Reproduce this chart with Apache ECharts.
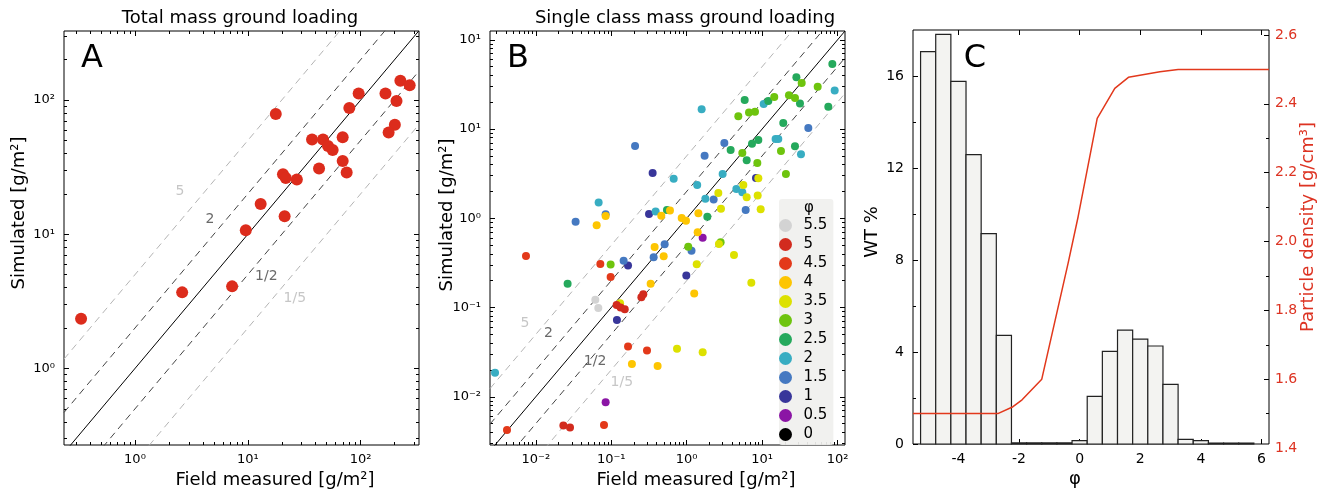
<!DOCTYPE html>
<html lang="en">
<head>
<meta charset="UTF-8">
<title>Ground loading</title>
<script src="https://cdn.jsdelivr.net/npm/echarts@6/dist/echarts.min.js"></script>
</head>
<body style="margin:0;background:#fff">
<div id="main" style="width:1328px;height:495px;"></div>
<script>
// ---- panel A: total mass ground loading [g/m2]
const totalField = [0.333, 2.62, 7.26, 9.6, 13.0, 21.2, 17.7, 20.5, 21.7, 27.2, 37.1, 46.4, 42.8,
    51.4, 56.5, 69.3, 69.3, 75.2, 79.4, 96, 166, 208, 201, 177, 225, 272];
const totalSim = [2.35, 3.69, 4.09, 10.7, 16.8, 13.6, 78.6, 28.0, 26.3, 25.6, 50.9, 50.9, 30.9,
    45.4, 42.4, 52.9, 35.1, 28.8, 87.1, 112, 112, 98.4, 65.4, 57.4, 139, 129];

// ---- panel B: single class mass, [field, simulated] per phi class
const phi55 = [[0.0615, 0.122], [0.0674, 0.0989]];
const phi50 = [[0.0232, 0.00475], [0.0284, 0.00451], [0.118, 0.107], [0.133, 0.0998], [0.151, 0.0955],
    [0.251, 0.130], [0.266, 0.141]];
const phi45 = [[0.00415, 0.00425], [0.00741, 0.378], [0.0802, 0.00483], [0.0717, 0.308], [0.0982, 0.220],
    [0.167, 0.0365], [0.298, 0.0329]];
const phi40 = [[0.0641, 0.835], [0.0843, 1.06], [0.461, 1.07], [0.601, 1.22], [0.859, 1.01], [0.98, 0.942],
    [1.43, 1.14], [0.376, 0.477], [0.496, 0.375], [0.333, 0.185], [1.40, 0.697], [1.26, 0.144],
    [0.188, 0.0233], [0.412, 0.0221]];
const phi35 = [[0.131, 0.112], [0.745, 0.0346], [1.63, 0.0315], [1.36, 0.305], [2.68, 0.516], [4.24, 0.388],
    [7.20, 0.190], [2.63, 1.92], [2.85, 1.28], [5.64, 2.36], [6.25, 1.72], [8.92, 2.81], [8.74, 1.80],
    [9.58, 1.26]];
const phi30 = [[0.0982, 0.303], [1.05, 0.481], [2.82, 0.538], [4.84, 13.9], [6.71, 15.3], [8.05, 15.6],
    [14.5, 22.9], [22.7, 23.9], [27.3, 22.3], [54.6, 29.9], [33.5, 32.9], [5.47, 5.40], [8.65, 4.17],
    [17.8, 5.68], [20.7, 3.14]];
const phi25 = [[0.0264, 0.185], [85.4, 53.7], [28.5, 38.0], [75.5, 17.8], [31.8, 19.4], [5.88, 21.2],
    [12.1, 20.6], [19.1, 11.7], [27.3, 6.41], [3.83, 5.83], [6.25, 4.47], [7.35, 6.87], [8.92, 7.55],
    [1.88, 1.04], [0.548, 1.24]];
const phi20 = [[0.00288, 0.0186], [0.0681, 1.50], [0.673, 2.78], [1.58, 16.7], [1.38, 2.36], [0.388, 1.19],
    [3.00, 3.14], [4.56, 2.13], [5.47, 1.96], [1.77, 1.66], [10.5, 19.1], [15.1, 7.74], [16.4, 7.74],
    [32.8, 5.21], [91.7, 27.0]];
const phi15 = [[0.0337, 0.918], [0.0843, 1.11], [0.146, 0.335], [0.207, 6.47], [0.511, 0.511], [0.365, 0.366],
    [3.16, 6.99], [1.73, 5.04], [2.28, 1.62], [6.06, 1.24], [41.0, 10.3], [1.16, 0.434]];
const phi10 = [[0.317, 1.12], [0.354, 3.22], [0.119, 0.0726], [0.167, 0.295], [0.99, 0.228], [8.30, 2.83]];
const phi05 = [[0.0843, 0.00867], [1.63, 0.607]];
const phi00 = [];

const phiClasses = ['5.5', '5', '4.5', '4', '3.5', '3', '2.5', '2', '1.5', '1', '0.5', '0'];
const phiColors = ['#d3d3d3', '#d22b1e', '#e3391a', '#fdc502', '#dde100', '#6ec40e', '#25a95c',
    '#38adc2', '#4579c1', '#38369a', '#8b15a5', '#000000'];
const phiData = [phi55, phi50, phi45, phi40, phi35, phi30, phi25, phi20, phi15, phi10, phi05, phi00];

// ---- panel C: grain size distribution and particle density
const phiBins = [-5, -4.5, -4, -3.5, -3, -2.5, -2, -1.5, -1, -0.5, 0, 0.5, 1, 1.5, 2, 2.5, 3, 3.5, 4, 4.5, 5, 5.5];
const wtPct = [17.06, 17.81, 15.77, 12.58, 9.15, 4.72, 0.05, 0.05, 0.05, 0.05, 0.15, 2.07, 4.03, 4.95,
    4.56, 4.26, 2.59, 0.2, 0.15, 0.04, 0.04, 0.04];
const densPhi = [-5.5, -2.7, -2.2, -1.9, -1.25, -0.38, -0.05, 0.58, 1.16, 1.61, 2.65, 3.25, 6.25];
const densVal = [1.50, 1.50, 1.52, 1.54, 1.60, 1.937, 2.072, 2.358, 2.445, 2.477, 2.493, 2.50, 2.50];

// ---- tick labels
const decA = [0, 1, 2];
const decLabA = ['10⁰', '10¹', '10²'];
const decB = [-2, -1, 0, 1, 2];
const decLabBx = ['10⁻²', '10⁻¹', '10⁰', '10¹', '10²'];
const decLabBy = ['10⁻²', '10⁻¹', '10⁰', '10¹', '10¹'];
const phiTicks = [-4, -2, 0, 2, 4, 6];
const wtTicks = [0, 4, 8, 12, 16];
const wtMinor = [2, 6, 10, 14];
const densLabels = [1.4, 1.6, 1.8, 2.0, 2.2, 2.4, 2.6];
const densTicks = [1.6, 1.8, 2.0, 2.2, 2.4, 2.6];
const densMinor = [1.5, 1.7, 1.9, 2.1, 2.3, 2.5];

const ratios = [5, 2, 1, 0.5, 0.2];
const ratioStyle = [
    {color: '#b4b4b4', type: [7, 5]}, {color: '#444', type: [7, 5]}, {color: '#000', type: 'solid'},
    {color: '#444', type: [7, 5]}, {color: '#b4b4b4', type: [7, 5]}
];

const FONT = 'DejaVu Sans';
const rangeA = {x: [0.235, 329], y: [0.269, 327]};
const rangeB = {x: [0.00247, 125.7], y: [0.00288, 125.7]};

const xAxes = [], yAxes = [];

function plainAxis(g, pos, lo, hi, ticks, len, label) {
    return {
        type: 'value', gridIndex: g, position: pos, min: lo, max: hi,
        axisLine: {show: false, onZero: false}, splitLine: {show: false},
        axisTick: {show: true, inside: true, length: len, customValues: ticks, lineStyle: {color: '#000', width: 1}},
        axisLabel: label ? Object.assign({show: true, color: '#000', fontSize: 13, fontFamily: FONT}, label) : {show: false}
    };
}

// decorative log ticks drawn on value axes in log10 units
function logTicks(list, g, posA, posB, range, decades, labels, margin) {
    const lo = Math.log10(range[0]), hi = Math.log10(range[1]);
    const majors = [], minors = [];
    for (let n = Math.floor(lo); n <= Math.ceil(hi); n++) {
        if (n >= lo && n <= hi) majors.push(n);
        for (let k = 2; k < 10; k++) {
            const v = n + Math.log10(k);
            if (v > lo && v < hi) minors.push(v);
        }
    }
    [posA, posB].forEach((pos, i) => {
        list.push(plainAxis(g, pos, lo, hi, majors, 5, i === 0 ? {
            customValues: decades, margin: margin,
            formatter: v => labels[decades.indexOf(Math.round(v))]
        } : null));
        list.push(plainAxis(g, pos, lo, hi, minors, 3, null));
    });
}

function logPanel(g, range, decX, labX, decY, labY) {
    xAxes.push({type: 'log', gridIndex: g, min: range.x[0], max: range.x[1], show: false});
    const xi = xAxes.length - 1;
    yAxes.push({type: 'log', gridIndex: g, min: range.y[0], max: range.y[1], show: false});
    const yi = yAxes.length - 1;
    logTicks(xAxes, g, 'bottom', 'top', range.x, decX, labX, 8);
    logTicks(yAxes, g, 'left', 'right', range.y, decY, labY, 9);
    return [xi, yi];
}

const [axA, ayA] = logPanel(0, rangeA, decA, decLabA, decA, decLabA);
const [axB, ayB] = logPanel(1, rangeB, decB, decLabBx, decB, decLabBy);

// panel C axes
xAxes.push(plainAxis(2, 'bottom', -5.5, 6.25, phiTicks, 5, {customValues: phiTicks, fontSize: 14, margin: 8}));
const axC = xAxes.length - 1;
xAxes.push(plainAxis(2, 'top', -5.5, 6.25, phiTicks, 5, null));
yAxes.push(plainAxis(2, 'left', 0, 18, wtTicks, 5, {customValues: wtTicks, fontSize: 14, margin: 9}));
const ayC = yAxes.length - 1;
yAxes.push(plainAxis(2, 'left', 0, 18, wtMinor, 3, null));
xAxes.push({type: 'value', gridIndex: 3, min: -5.5, max: 6.25, show: false});
const axC2 = xAxes.length - 1;
yAxes.push(plainAxis(3, 'right', 1.4, 2.6, densTicks, 5, {
    customValues: densLabels, fontSize: 14, margin: 6, color: '#dd3322', formatter: v => v.toFixed(1)
}));
const ayC2 = yAxes.length - 1;
yAxes.push(plainAxis(3, 'right', 1.4, 2.6, densMinor, 3, null));

function ratioSeries(xi, yi, range) {
    return ratios.map((k, i) => ({
        type: 'line', xAxisIndex: xi, yAxisIndex: yi, silent: true, symbol: 'none', clip: true, z: 1,
        lineStyle: {color: ratioStyle[i].color, type: ratioStyle[i].type, width: 1},
        data: [[range.x[0], range.x[0] * k], [range.x[1], range.x[1] * k]]
    }));
}

function ratioLabels(xi, yi, items) {
    return {
        type: 'scatter', xAxisIndex: xi, yAxisIndex: yi, symbolSize: 0, silent: true, z: 3,
        label: {show: true, position: 'inside', formatter: '{b}', fontSize: 14, fontFamily: FONT, textBorderWidth: 0},
        data: items.map(d => ({name: d[0], value: [d[1], d[2]], label: {color: d[3]}}))
    };
}

const series = [];
series.push(...ratioSeries(axA, ayA, rangeA));
series.push(ratioLabels(axA, ayA, [['5', 2.5, 20.9, '#b8b8b8'], ['2', 4.61, 12.9, '#444'],
    ['1/2', 14.6, 4.89, '#444'], ['1/5', 26.1, 3.35, '#b8b8b8']]));
series.push({
    type: 'scatter', xAxisIndex: axA, yAxisIndex: ayA, symbolSize: 12, z: 4,
    itemStyle: {color: '#dc2c1c', opacity: 1},
    data: totalField.map((v, i) => [v, totalSim[i]])
});

series.push(...ratioSeries(axB, ayB, rangeB));
series.push(ratioLabels(axB, ayB, [['5', 0.0072, 0.0665, '#b8b8b8'], ['2', 0.0147, 0.0514, '#444'],
    ['1/2', 0.0611, 0.0247, '#444'], ['1/5', 0.138, 0.01436, '#b8b8b8']]));
// lower phi drawn first, coarse classes end up underneath
for (let i = phiClasses.length - 1; i >= 0; i--) {
    series.push({
        name: phiClasses[i], type: 'scatter', xAxisIndex: axB, yAxisIndex: ayB, symbol: 'circle',
        symbolSize: 8, z: 4, itemStyle: {color: phiColors[i], opacity: 1}, data: phiData[i]
    });
}

series.push({
    type: 'custom', xAxisIndex: axC, yAxisIndex: ayC, z: 2,
    data: phiBins.map((p, i) => [p, wtPct[i]]),
    encode: {x: 0, y: 1},
    renderItem: function (params, api) {
        const x = api.value(0), h = api.value(1);
        const p0 = api.coord([x - 0.25, h]);
        const p1 = api.coord([x + 0.25, 0]);
        return {
            type: 'rect',
            shape: {x: p0[0], y: p0[1], width: p1[0] - p0[0], height: p1[1] - p0[1]},
            style: {fill: '#f3f3f1', stroke: '#222', lineWidth: 1.2}
        };
    }
});
series.push({
    type: 'line', xAxisIndex: axC2, yAxisIndex: ayC2, symbol: 'none', z: 5,
    lineStyle: {color: '#e2381c', width: 1.5},
    data: densPhi.map((p, i) => [p, densVal[i]])
});

function txt(text, x, y, size, opts) {
    return Object.assign({
        type: 'text', x: x, y: y, silent: true, z: 10,
        style: {
            text: text, fontSize: size, fontFamily: FONT, fill: '#000',
            align: 'center', verticalAlign: 'middle', textAlign: 'center', textVerticalAlign: 'middle'
        }
    }, opts || {});
}
function rot(el, color) {
    el.rotation = Math.PI / 2;
    if (color) el.style.fill = color;
    return el;
}

const gridBase = {show: true, borderColor: '#000', borderWidth: 1, backgroundColor: 'transparent', outerBoundsMode: 'none', containLabel: false};

const option = {
    animation: false,
    backgroundColor: '#fff',
    textStyle: {fontFamily: FONT},
    grid: [
        Object.assign({left: 64, top: 31, width: 355, height: 414}, gridBase),
        Object.assign({left: 490, top: 31, width: 355, height: 414}, gridBase),
        Object.assign({left: 913, top: 30, width: 356, height: 414}, gridBase),
        {left: 913, top: 35, width: 356, height: 413, show: false, outerBoundsMode: 'none'}
    ],
    xAxis: xAxes,
    yAxis: yAxes,
    legend: {
        data: phiClasses, orient: 'vertical', left: 779, top: 199,
        padding: [19, 6, 3, 0], itemWidth: 26, itemHeight: 13, itemGap: 4, icon: 'circle',
        backgroundColor: 'rgba(240,240,238,0.92)', borderRadius: 3, selectedMode: false,
        textStyle: {fontSize: 15, color: '#000', fontFamily: FONT}
    },
    graphic: [
        txt('Total mass ground loading', 240, 18, 18),
        txt('Single class mass ground loading', 685, 18, 18),
        txt('A', 92, 59, 32),
        txt('B', 518, 59, 32),
        txt('C', 975, 59, 32),
        txt('Field measured [g/m²]', 275, 480, 18),
        txt('Field measured [g/m²]', 696, 480, 18),
        rot(txt('Simulated [g/m²]', 19, 213, 18)),
        rot(txt('Simulated [g/m²]', 447, 215, 18)),
        rot(txt('WT %', 872, 232, 18)),
        txt('φ', 1075, 479, 18),
        rot(txt('Particle density [g/cm³]', 1308, 227, 18), '#dd3322'),
        txt('φ', 809, 208, 15)
    ],
    series: series
};

const chart = echarts.init(document.getElementById('main'));
chart.setOption(option);
</script>
</body>
</html>
